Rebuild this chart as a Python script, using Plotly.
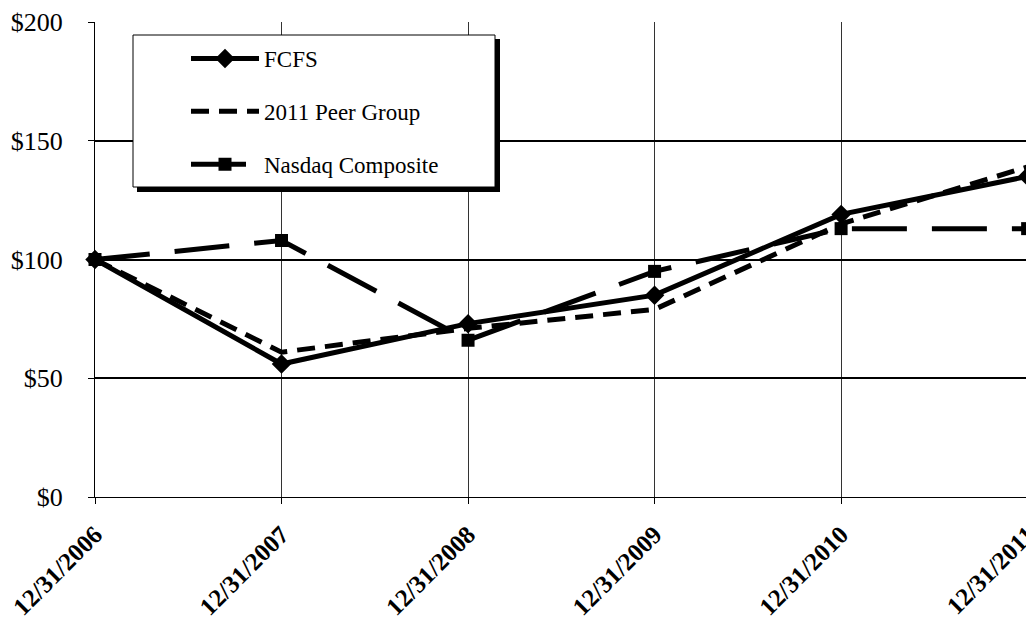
import plotly.graph_objects as go

dates = ["12/31/2006", "12/31/2007", "12/31/2008", "12/31/2009", "12/31/2010", "12/31/2011"]
fcfs = [100, 56, 73, 85, 119, 135]
peer = [100, 61, 71, 79, 115, 139]
nasdaq = [100, 108, 66, 95, 113, 113]
y_ticks = [0, 50, 100, 150, 200]
y_labels = ["$0", "$50", "$100", "$150", "$200"]

xs = list(range(len(dates)))
FONT = "Liberation Serif"

fig = go.Figure()
fig.add_trace(go.Scatter(x=xs, y=fcfs, name="FCFS", mode="lines+markers",
                         line=dict(color="black", width=5),
                         marker=dict(symbol="diamond", size=15, color="black"),
                         legendgroup="a", cliponaxis=False))
fig.add_trace(go.Scatter(x=xs, y=peer, name="2011 Peer Group", mode="lines",
                         line=dict(color="black", width=5, dash="18px,10px"),
                         legendgroup="b", cliponaxis=False))
fig.add_trace(go.Scatter(x=xs, y=nasdaq, name="Nasdaq Composite", mode="lines+markers",
                         line=dict(color="black", width=5, dash="55px,25px"),
                         marker=dict(symbol="square", size=13, color="black"),
                         legendgroup="c", cliponaxis=False))

# plot area in screen pixels: x 95..1028, y 22..497 (page body has an 8px margin)
def px_x(p):
    return (p - 95) / 933.0

def px_y(p):
    return (497 - p) / 475.0

shapes = [
    dict(type="rect", xref="paper", yref="paper", layer="above",
         x0=px_x(137), x1=px_x(500), y0=px_y(192), y1=px_y(39),
         fillcolor="black", line=dict(width=0)),
    dict(type="rect", xref="paper", yref="paper", layer="above",
         x0=px_x(133), x1=px_x(495), y0=px_y(187), y1=px_y(35),
         fillcolor="white", line=dict(color="black", width=1)),
]

fig.update_layout(
    width=1026, height=618,
    margin=dict(l=87, r=6, t=14, b=129, autoexpand=False),
    paper_bgcolor="white", plot_bgcolor="white",
    font=dict(family=FONT, color="black"),
    shapes=shapes,
    showlegend=True,
    legend=dict(x=px_x(186), y=px_y(37), xanchor="left", yanchor="top",
                bgcolor="rgba(0,0,0,0)", borderwidth=0,
                font=dict(family=FONT, size=23, color="black"),
                traceorder="grouped", tracegroupgap=20, itemwidth=68),
    xaxis=dict(range=[0, 5.002], tickvals=xs, ticktext=dates, tickangle=-45,
               tickfont=dict(family=FONT, size=25, color="black", weight="bold"),
               showgrid=True, gridcolor="#333", gridwidth=1,
               showline=True, linecolor="black", linewidth=1, mirror=False,
               ticks="outside", ticklen=6, tickcolor="black", zeroline=False,
               ticklabelstandoff=6, ticklabeloverflow="allow", automargin=False),
    yaxis=dict(range=[0, 200], tickvals=y_ticks, ticktext=y_labels,
               tickfont=dict(family=FONT, size=26, color="black"),
               showgrid=True, gridcolor="black", gridwidth=2,
               showline=True, linecolor="black", linewidth=1,
               ticks="outside", ticklen=6, tickcolor="black", zeroline=False,
               ticklabelstandoff=20, ticklabeloverflow="allow", automargin=False),
)

fig.write_html("out.html")
